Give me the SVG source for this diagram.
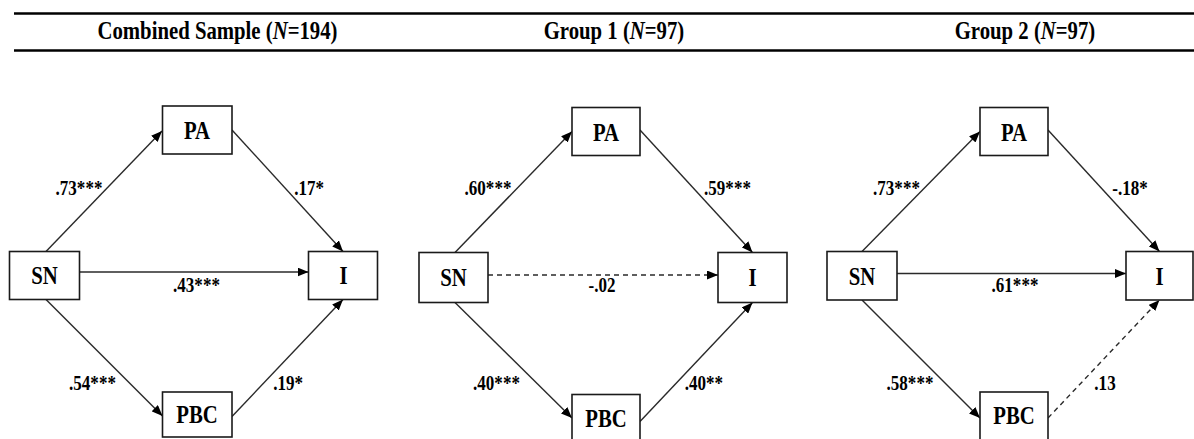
<svg xmlns="http://www.w3.org/2000/svg" width="1194" height="439" viewBox="0 0 1194 439">
<style>
text{font-family:"Liberation Serif","Times New Roman",serif;font-weight:bold;fill:#000;text-anchor:middle}
.hdr{font-size:25px}
.nl{font-size:25px}
.cl{font-size:20.5px}
.box{fill:#fff;stroke:#1a1a1a;stroke-width:1.6}
.rule{stroke:#000;stroke-width:2.6}
.edge{fill:none;stroke:#2a2a2a;stroke-width:1.4;marker-end:url(#ah)}
.dash{stroke-dasharray:5 4}
</style>
<defs>
<marker id="ah" markerUnits="userSpaceOnUse" markerWidth="11" markerHeight="9" refX="11" refY="4.5" orient="auto">
<path d="M0,0 L11,4.5 L0,9 z" fill="#000"/>
</marker>
</defs>
<rect x="0" y="0" width="1194" height="439" fill="#fff"/>
<g id="header">
<line class="rule" x1="14" y1="13.5" x2="1194" y2="13.5"/>
<line class="rule" x1="14" y1="50.5" x2="1194" y2="50.5"/>
<text class="hdr" transform="translate(217.5,39) scale(0.83,1)">Combined Sample (<tspan font-style="italic">N</tspan>=194)</text>
<text class="hdr" transform="translate(614,39) scale(0.83,1)">Group 1 (<tspan font-style="italic">N</tspan>=97)</text>
<text class="hdr" transform="translate(1025,39) scale(0.83,1)">Group 2 (<tspan font-style="italic">N</tspan>=97)</text>
</g>
<g id="connectors">
<path class="edge" d="M46,251.5 L162,131"/>
<path class="edge" d="M232,130 L343,251.5"/>
<path class="edge" d="M79.5,272 L308.5,272"/>
<path class="edge" d="M46,299.5 L162.5,416"/>
<path class="edge" d="M232,416.5 L343,299.5"/>
<path class="edge" d="M455,252.5 L572,131.5"/>
<path class="edge" d="M640,130 L752.5,252.5"/>
<path class="edge dash" d="M488,275 L718,275"/>
<path class="edge" d="M455,302.5 L572,418"/>
<path class="edge" d="M640,421.5 L752.5,302.5"/>
<path class="edge" d="M862,251.5 L980,131.5"/>
<path class="edge" d="M1048,130 L1159.5,251.5"/>
<path class="edge" d="M897,273.5 L1126,273.5"/>
<path class="edge" d="M862,300 L980,418"/>
<path class="edge dash" d="M1048,418 L1159.5,300"/>
</g>
<g id="labels">
<text class="cl" transform="translate(79,195) scale(0.83,1)">.73***</text>
<text class="cl" transform="translate(309,195) scale(0.83,1)">.17*</text>
<text class="cl" transform="translate(196.5,291.5) scale(0.83,1)">.43***</text>
<text class="cl" transform="translate(92.5,390) scale(0.83,1)">.54***</text>
<text class="cl" transform="translate(288,390) scale(0.83,1)">.19*</text>
<text class="cl" transform="translate(488,195) scale(0.83,1)">.60***</text>
<text class="cl" transform="translate(727.5,195) scale(0.83,1)">.59***</text>
<text class="cl" transform="translate(602,291.5) scale(0.83,1)">-.02</text>
<text class="cl" transform="translate(496.5,390) scale(0.83,1)">.40***</text>
<text class="cl" transform="translate(704,390) scale(0.83,1)">.40**</text>
<text class="cl" transform="translate(896.5,195) scale(0.83,1)">.73***</text>
<text class="cl" transform="translate(1130,195) scale(0.83,1)">-.18*</text>
<text class="cl" transform="translate(1015,291.5) scale(0.83,1)">.61***</text>
<text class="cl" transform="translate(910,390) scale(0.83,1)">.58***</text>
<text class="cl" transform="translate(1105,390) scale(0.83,1)">.13</text>
</g>
<g id="p1-PA"><rect class="box" x="162.5" y="106" width="69.5" height="48"/><text class="nl" transform="translate(197,139) scale(0.83,1)">PA</text></g>
<g id="p1-SN"><rect class="box" x="9.5" y="251.5" width="70" height="48"/><text class="nl" transform="translate(44.5,284) scale(0.83,1)">SN</text></g>
<g id="p1-I"><rect class="box" x="308.5" y="251.5" width="69" height="48"/><text class="nl" transform="translate(343.5,284) scale(0.83,1)">I</text></g>
<g id="p1-PBC"><rect class="box" x="162.5" y="392" width="69.5" height="45"/><text class="nl" transform="translate(197,423) scale(0.83,1)">PBC</text></g>
<g id="p2-PA"><rect class="box" x="572" y="107.5" width="68" height="48"/><text class="nl" transform="translate(606,140.5) scale(0.83,1)">PA</text></g>
<g id="p2-SN"><rect class="box" x="419" y="252.5" width="69" height="50"/><text class="nl" transform="translate(453.5,286) scale(0.83,1)">SN</text></g>
<g id="p2-I"><rect class="box" x="718" y="252.5" width="69" height="50"/><text class="nl" transform="translate(752.5,286) scale(0.83,1)">I</text></g>
<g id="p2-PBC"><rect class="box" x="572" y="394.5" width="68" height="50"/><text class="nl" transform="translate(606,427) scale(0.83,1)">PBC</text></g>
<g id="p3-PA"><rect class="box" x="980" y="107.5" width="68" height="48"/><text class="nl" transform="translate(1014,140.5) scale(0.83,1)">PA</text></g>
<g id="p3-SN"><rect class="box" x="827" y="251.5" width="70" height="48.5"/><text class="nl" transform="translate(862,284.5) scale(0.83,1)">SN</text></g>
<g id="p3-I"><rect class="box" x="1126" y="251.5" width="67" height="48.5"/><text class="nl" transform="translate(1159.5,284.5) scale(0.83,1)">I</text></g>
<g id="p3-PBC"><rect class="box" x="980" y="392" width="68" height="50"/><text class="nl" transform="translate(1014,424) scale(0.83,1)">PBC</text></g>
</svg>
